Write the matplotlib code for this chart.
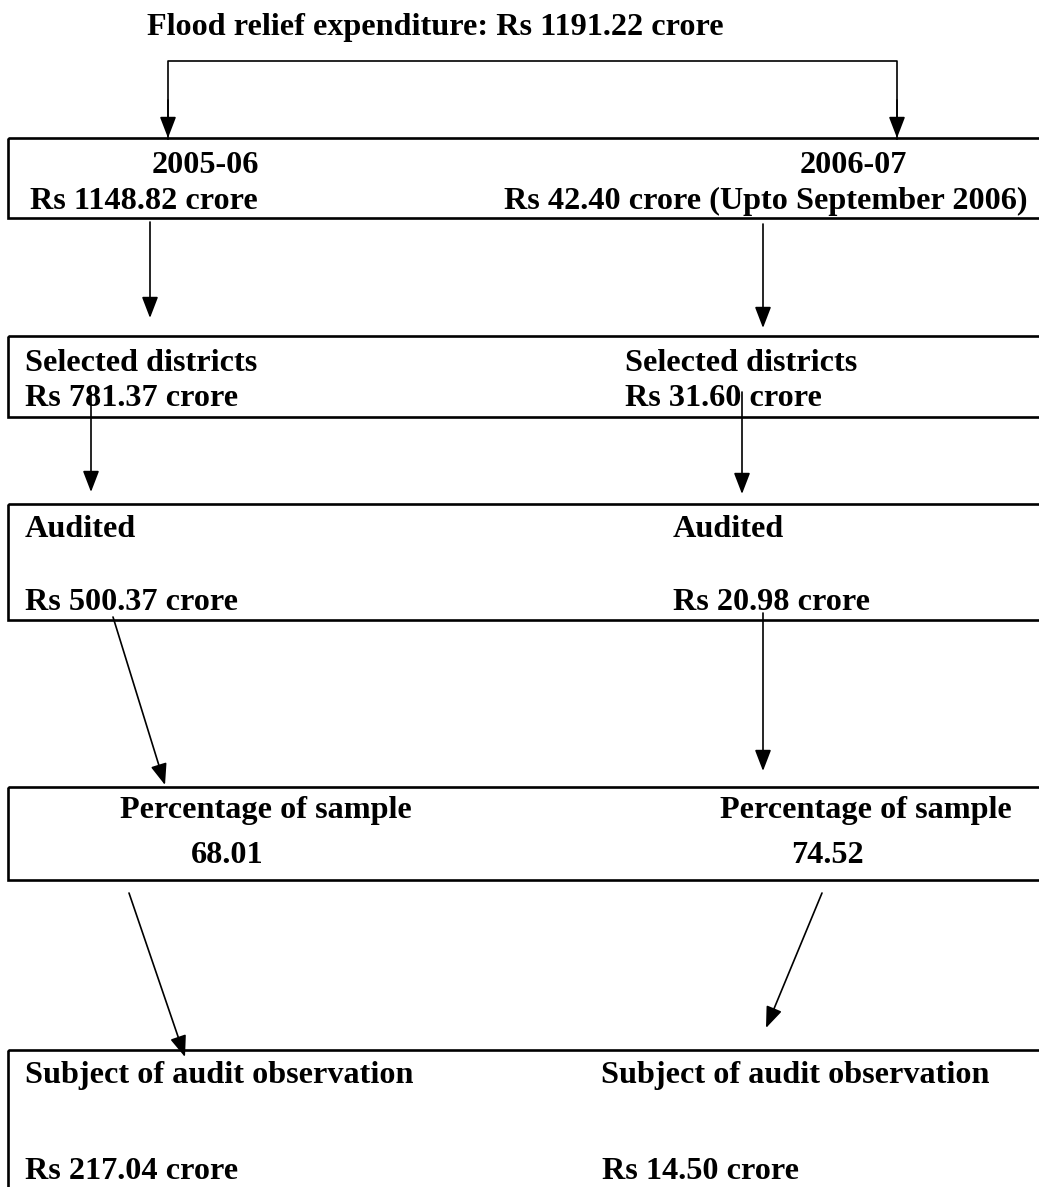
import matplotlib
matplotlib.use("Agg")
import matplotlib.pyplot as plt
from matplotlib.patches import Rectangle, FancyArrowPatch, ArrowStyle

# ---- data ----
title_label = "Flood relief expenditure: Rs 1191.22 crore"
years = ["2005-06", "2006-07"]
year_amounts = ["Rs 1148.82 crore", "Rs 42.40 crore (Upto September 2006)"]
selected_label = "Selected districts"
selected_amounts = ["Rs 781.37 crore", "Rs 31.60 crore"]
audited_label = "Audited"
audited_amounts = ["Rs 500.37 crore", "Rs 20.98 crore"]
pct_label = "Percentage of sample"
pct_values = ["68.01", "74.52"]
obs_label = "Subject of audit observation"
obs_amounts = ["Rs 217.04 crore", "Rs 14.50 crore"]

W, H = 1039, 1187
fig = plt.figure(figsize=(W / 100, H / 100), dpi=100)
ax = fig.add_axes([0, 0, 1, 1])
ax.set_xlim(0, W)
ax.set_ylim(H, 0)
ax.axis("off")

font = dict(family="Liberation Serif", fontweight="bold", fontsize=23.2, color="black")

def box(top, bottom):
    ax.add_patch(Rectangle((8, top), 1060 - 8, bottom - top, fill=False,
                           edgecolor="black", linewidth=1.9, clip_on=True))

def arrow(x0, y0, x1, y1):
    st = ArrowStyle("-|>", head_length=1.3, head_width=0.5)
    ax.add_patch(FancyArrowPatch((x0, y0), (x1, y1), arrowstyle=st,
                                 mutation_scale=10, color="black",
                                 linewidth=1.2, shrinkA=0, shrinkB=0))

def txt(x, y, s, ha="left"):
    ax.text(x, y, s, ha=ha, va="baseline", **font)

# title and top connector
txt(435, 35, title_label, ha="center")
ax.plot([168, 168, 897, 897], [139, 61, 61, 139], color="black", linewidth=1.2)
arrow(168, 100, 168, 138)
arrow(897, 100, 897, 138)

# boxes
box(138, 218)
box(336, 417)
box(504, 620)
box(787, 880)
box(1050, 1230)

# year box
txt(205, 173, years[0], ha="center")
txt(30, 209, year_amounts[0])
txt(853, 173, years[1], ha="center")
txt(1028, 209, year_amounts[1], ha="right")

# selected districts
txt(25, 371, selected_label)
txt(25, 406, selected_amounts[0])
txt(625, 371, selected_label)
txt(625, 406, selected_amounts[1])

# audited
txt(25, 537, audited_label)
txt(25, 610, audited_amounts[0])
txt(673, 537, audited_label)
txt(673, 610, audited_amounts[1])

# percentage
txt(120, 818, pct_label)
txt(227, 863, pct_values[0], ha="center")
txt(720, 818, pct_label)
txt(827, 863, pct_values[1], ha="center")

# observation
txt(25, 1083, obs_label)
txt(25, 1179, obs_amounts[0])
txt(601, 1083, obs_label)
txt(602, 1179, obs_amounts[1])

# arrows between boxes
arrow(150, 222, 150, 318)
arrow(763, 224, 763, 328)
arrow(91, 392, 91, 492)
arrow(742, 392, 742, 494)
arrow(113, 617, 165, 785)
arrow(763, 613, 763, 771)
arrow(129, 893, 185, 1057)
arrow(822, 893, 766, 1028)

fig.savefig("out.png", dpi=100, facecolor="white")
